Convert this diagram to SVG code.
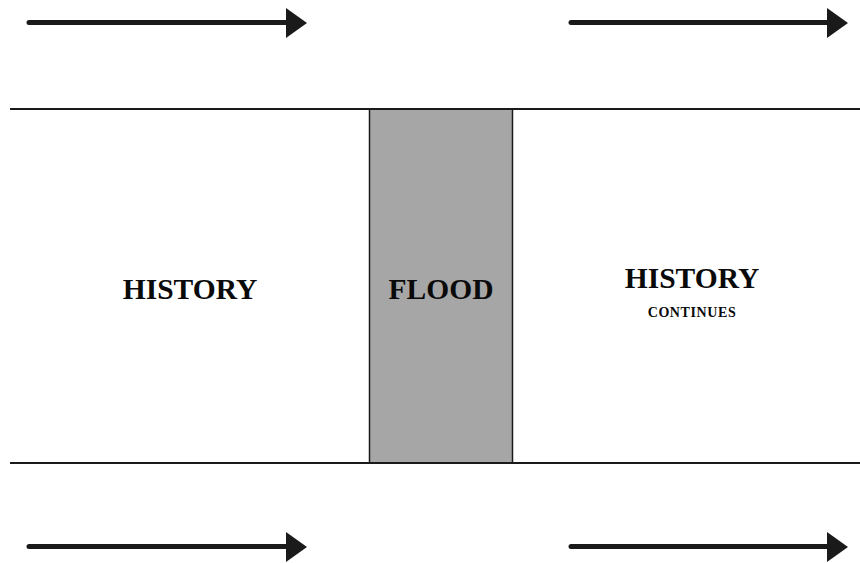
<svg xmlns="http://www.w3.org/2000/svg" width="860" height="563" viewBox="0 0 860 563">
<style>
.t{font-family:"Liberation Serif","Times New Roman",serif;font-weight:bold;fill:#0a0a0a;text-anchor:middle}
.big{font-size:29.5px}
.small{font-size:14px;letter-spacing:0.6px}
.arr{stroke:#1a1a1a;stroke-width:5;stroke-linecap:round;fill:none}
.head{fill:#1a1a1a}
.rule{stroke:#1a1a1a;stroke-width:2}
</style>
<rect width="860" height="563" fill="#fff"/>
<g id="connectors">
<line class="arr" x1="29" y1="22.5" x2="290" y2="22.5"/>
<polygon class="head" points="286,8 307,23 286,38"/>
<line class="arr" x1="571" y1="22.5" x2="831" y2="22.5"/>
<polygon class="head" points="827,8 848,23 827,38"/>
<line class="arr" x1="29" y1="546.5" x2="290" y2="546.5"/>
<polygon class="head" points="286,532 307,547 286,562"/>
<line class="arr" x1="571" y1="546.5" x2="831" y2="546.5"/>
<polygon class="head" points="827,532 848,547 827,562"/>
</g>
<g id="flood">
<rect x="369.5" y="109" width="143" height="354" fill="#a6a6a6" stroke="#1a1a1a" stroke-width="1.5"/>
<text class="t big" x="441" y="299">FLOOD</text>
</g>
<line class="rule" x1="10" y1="109" x2="860" y2="109"/>
<line class="rule" x1="10" y1="463" x2="860" y2="463"/>
<g id="history">
<text class="t big" x="190" y="299">HISTORY</text>
</g>
<g id="history-continues">
<text class="t big" x="692" y="288">HISTORY</text>
<text class="t small" x="692" y="317">CONTINUES</text>
</g>
</svg>
